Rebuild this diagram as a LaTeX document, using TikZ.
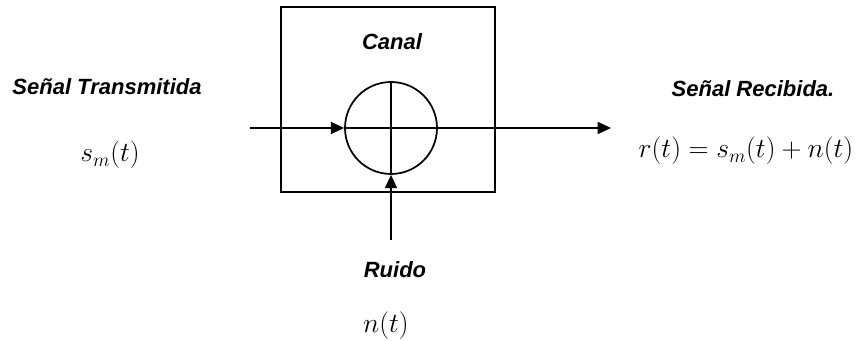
\documentclass[tikz,border=0pt]{standalone}
\usepackage{fontspec}
\setsansfont{Liberation Sans}
\usetikzlibrary{arrows.meta,positioning}

\tikzstyle{lbl} = [font=\sffamily\bfseries\itshape\fontsize{16.5}{19}\selectfont]
\tikzstyle{sig} = [font=\fontsize{20.5}{23}\selectfont]
\tikzstyle{wire} = [line width=1.3pt, -{Triangle[length=10pt,width=9pt]}]

\begin{document}
\begin{tikzpicture}[x=0.75pt,y=-0.75pt, line width=1.3pt]
\useasboundingbox (0,0) rectangle (865,341);
% canal y sumador
\node[draw, minimum width=160.5pt, minimum height=138.75pt] (canal) at (388,99.5) {};
\node[draw, circle, minimum size=69pt, inner sep=0pt] (sum) at (391,128) {};
\draw (sum.north) -- (sum.south);
\draw (sum.west) -- (sum.east);
\node[lbl] (canaltxt) at (392,42) {Canal};
% entrada
\coordinate (in) at (250,128);
\draw[wire] (in) -- (sum.west);
\node[lbl] (tx) at (107,87) {Señal Transmitida};
\node[sig] (sm) at (110,155) {$s_m(t)$};
% salida
\coordinate (out) at (611,128);
\draw[wire] (sum.east) -- (out);
\node[lbl] (rx) at (753,89) {Señal Recibida.};
\node[sig] (rt) at (746,151) {$r(t) = s_m(t) + n(t)$};
% ruido
\coordinate (nz) at (391,240);
\draw[wire] (nz) -- (sum.south);
\node[lbl] (ruido) at (395,270) {Ruido};
\node[sig] (nt) at (386,326) {$n(t)$};
\end{tikzpicture}
\end{document}
